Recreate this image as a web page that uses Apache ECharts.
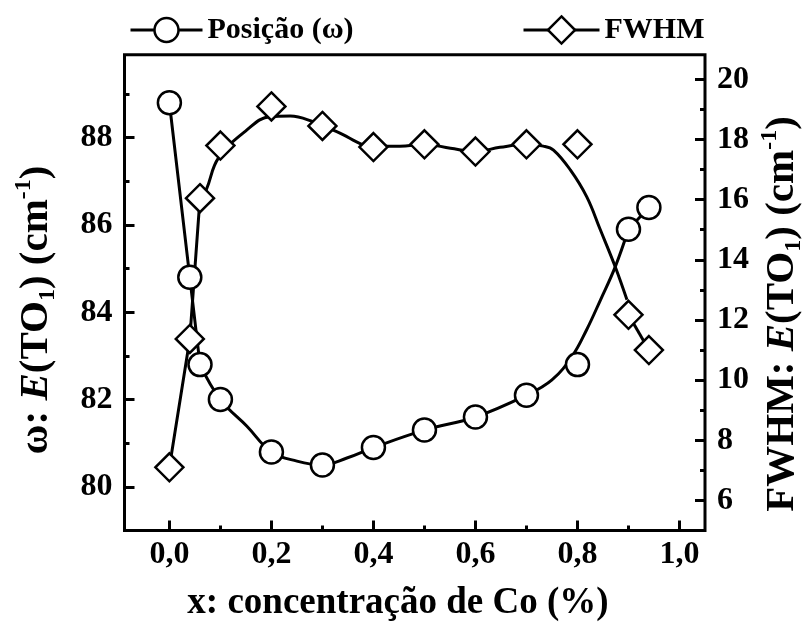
<!DOCTYPE html>
<html>
<head>
<meta charset="utf-8">
<script src="https://cdn.jsdelivr.net/npm/echarts@6/dist/echarts.min.js"></script>
<style>
html,body{margin:0;padding:0;background:#fff;}
#chart{width:811px;height:630px;}
</style>
</head>
<body>
<div id="chart"></div>
<script>
// ---- data ----
const xPts = [0, 0.04, 0.06, 0.1, 0.2, 0.3, 0.4, 0.5, 0.6, 0.7, 0.8, 0.9, 0.94];
const omega = [88.8, 84.8, 82.8, 82.0, 80.8, 80.5, 80.9, 81.3, 81.6, 82.1, 82.8, 85.9, 86.4];
const fwhm = [7.1, 11.37, 16.05, 17.8, 19.1, 18.45, 17.75, 17.84, 17.6, 17.84, 17.84, 12.17, 11.0];

// fitted guide curves (as drawn in the reference)
const omegaFitX = [0.06, 0.1, 0.152, 0.2, 0.25, 0.3, 0.348, 0.4, 0.5, 0.6, 0.7, 0.75, 0.79, 0.818, 0.845, 0.874, 0.9];
const omegaFitY = [82.8, 82.0, 81.39, 80.8, 80.59, 80.5, 80.66, 80.9, 81.3, 81.6, 82.1, 82.45, 83.0, 83.6, 84.28, 85.04, 85.9];
const fwhmFitX = [0.06, 0.072, 0.096, 0.152, 0.197, 0.237, 0.282, 0.328, 0.4, 0.452, 0.5, 0.551, 0.6, 0.648, 0.7, 0.733, 0.753, 0.786, 0.818, 0.845, 0.874, 0.897];
const fwhmFitY = [16.05, 16.32, 17.38, 18.32, 18.76, 18.78, 18.59, 18.26, 17.78, 17.78, 17.84, 17.71, 17.6, 17.74, 17.84, 17.78, 17.65, 16.99, 16.1, 14.99, 13.77, 12.67];

const xMajor = [0, 0.2, 0.4, 0.6, 0.8, 1.0];
const xMinor = [0.1, 0.3, 0.5, 0.7, 0.9];
const yLeftMajor = [80, 82, 84, 86, 88];
const yLeftMinor = [81, 83, 85, 87, 89];
const yRightMajor = [6, 8, 10, 12, 14, 16, 18, 20];
const yRightMinor = [7, 9, 11, 13, 15, 17, 19];

const nameOmega = 'Posição (ω)';
const nameFwhm = 'FWHM';

// ---- helpers ----
const zip = (xs, ys) => xs.map((x, i) => [x, ys[i]]);
const FONT = '"Liberation Serif", "Times New Roman", serif';
const tickLbl = {fontFamily: FONT, fontWeight: 'bold', fontSize: 32, color: '#000'};

function xAx(vals, len, showLabel) {
  return {
    type: 'value', min: -0.088, max: 1.05, position: 'bottom', gridIndex: 0,
    axisLine: {show: false, onZero: false}, splitLine: {show: false},
    axisTick: {show: true, inside: true, length: len, customValues: vals, lineStyle: {color: '#000', width: 3}},
    axisLabel: Object.assign({show: showLabel, customValues: vals, margin: 8,
      formatter: v => v.toFixed(1).replace('.', ',')}, tickLbl)
  };
}
function yAx(pos, min, max, vals, len, showLabel) {
  return {
    type: 'value', min: min, max: max, position: pos, gridIndex: 0,
    axisLine: {show: false, onZero: false}, splitLine: {show: false},
    axisTick: {show: true, inside: true, length: len, customValues: vals, lineStyle: {color: '#000', width: 3}},
    axisLabel: Object.assign({show: showLabel, customValues: vals, margin: 12}, tickLbl)
  };
}

const lineBase = {type: 'line', showSymbol: false, symbol: 'none', lineStyle: {color: '#000', width: 3}, silent: true, z: 2, animation: false};

const titleRich = {
  a: {fontFamily: FONT, fontWeight: 'bold', fontSize: 41, lineHeight: 48, verticalAlign: 'middle', fill: '#000'},
  i: {fontFamily: FONT, fontWeight: 'bold', fontStyle: 'italic', fontSize: 41, lineHeight: 48, verticalAlign: 'middle', fill: '#000'},
  sub: {fontFamily: FONT, fontWeight: 'bold', fontSize: 24, lineHeight: 16, verticalAlign: 'bottom', fill: '#000'},
  sup: {fontFamily: FONT, fontWeight: 'bold', fontSize: 24, lineHeight: 22, verticalAlign: 'top', fill: '#000'}
};

const option = {
  animation: false,
  backgroundColor: '#fff',
  grid: {left: 124.5, right: 106, top: 54.7, bottom: 99.5, show: true, borderColor: '#000', borderWidth: 3, backgroundColor: 'transparent'},
  xAxis: [xAx(xMajor, 10, true), xAx(xMinor, 5, false)],
  yAxis: [
    yAx('left', 79, 89.9, yLeftMajor, 10, true),
    yAx('left', 79, 89.9, yLeftMinor, 5, false),
    yAx('right', 5, 20.82, yRightMajor, 10, true),
    yAx('right', 5, 20.82, yRightMinor, 5, false)
  ],
  legend: [
    {data: [nameOmega], left: 124, top: 10, itemWidth: 72, itemHeight: 30, itemGap: 0,
     textStyle: {fontFamily: FONT, fontWeight: 'bold', fontSize: 30, color: '#000'},
     lineStyle: {color: '#000', width: 3, opacity: 1},
     itemStyle: {color: '#fff', borderColor: '#000', borderWidth: 2.5}},
    {data: [nameFwhm], left: 517, top: 10, itemWidth: 76, itemHeight: 34, itemGap: 0,
     textStyle: {fontFamily: FONT, fontWeight: 'bold', fontSize: 30, color: '#000'},
     lineStyle: {color: '#000', width: 3, opacity: 1},
     itemStyle: {color: '#fff', borderColor: '#000', borderWidth: 2.5}}
  ],
  series: [
    Object.assign({}, lineBase, {name: 'omegaA', yAxisIndex: 0, data: zip(xPts.slice(0, 3), omega.slice(0, 3))}),
    Object.assign({}, lineBase, {name: 'omegaFit', yAxisIndex: 0, smooth: 0.4, data: zip(omegaFitX, omegaFitY)}),
    Object.assign({}, lineBase, {name: 'omegaB', yAxisIndex: 0, data: zip(xPts.slice(11), omega.slice(11))}),
    Object.assign({}, lineBase, {name: 'fwhmA', yAxisIndex: 2, data: zip(xPts.slice(0, 3), fwhm.slice(0, 3))}),
    Object.assign({}, lineBase, {name: 'fwhmFit', yAxisIndex: 2, smooth: 0.4, data: zip(fwhmFitX, fwhmFitY)}),
    Object.assign({}, lineBase, {name: 'fwhmB', yAxisIndex: 2, data: zip(xPts.slice(11), fwhm.slice(11))}),
    {type: 'line', name: nameOmega, yAxisIndex: 0, data: zip(xPts, omega), z: 5,
     symbol: 'circle', symbolSize: 23, showSymbol: true,
     itemStyle: {color: '#fff', borderColor: '#000', borderWidth: 2.5},
     lineStyle: {opacity: 0, color: '#000', width: 3}, silent: true},
    {type: 'line', name: nameFwhm, yAxisIndex: 2, data: zip(xPts, fwhm), z: 5,
     symbol: 'diamond', symbolSize: 28, showSymbol: true,
     itemStyle: {color: '#fff', borderColor: '#000', borderWidth: 2.5},
     lineStyle: {opacity: 0, color: '#000', width: 3}, silent: true}
  ],
  graphic: [
    {type: 'text', x: 398, y: 603, silent: true,
     style: {text: 'x: concentração de Co (%)', align: 'center', verticalAlign: 'middle',
       fontFamily: FONT, fontWeight: 'bold', fontSize: 37, fill: '#000'}},
    {type: 'text', x: 36, y: 310, rotation: Math.PI / 2, silent: true,
     style: {text: '{a|ω: }{i|E}{a|(TO}{sub|1}{a|) (cm}{sup|-1}{a|)}', align: 'center', verticalAlign: 'middle', rich: titleRich}},
    {type: 'text', x: 782, y: 314, rotation: Math.PI / 2, silent: true,
     style: {text: '{a|FWHM: }{i|E}{a|(TO}{sub|1}{a|) (cm}{sup|-1}{a|)}', align: 'center', verticalAlign: 'middle', rich: titleRich}}
  ]
};

const chart = echarts.init(document.getElementById('chart'), null, {renderer: 'canvas'});
chart.setOption(option);
</script>
</body>
</html>
